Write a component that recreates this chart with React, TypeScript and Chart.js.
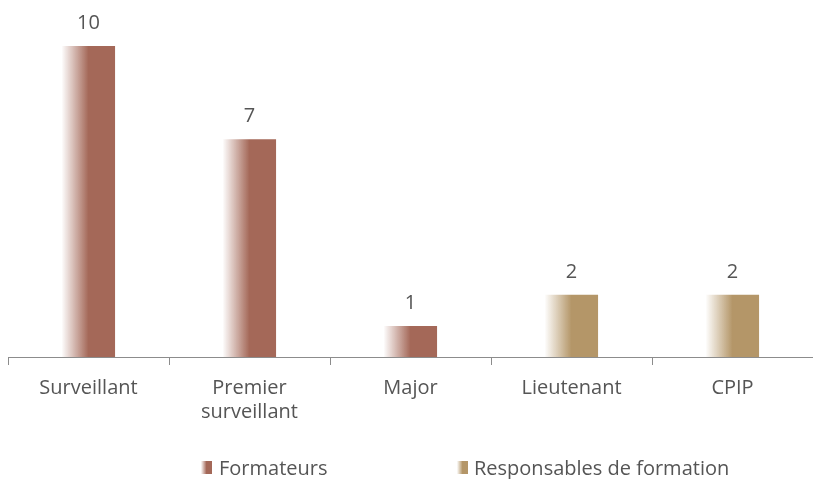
import React, { useEffect, useRef } from "react";
import { Chart, registerables } from "chart.js";

Chart.register(...registerables);

const categories: (string | string[])[] = ["Surveillant", ["Premier", "surveillant"], "Major", "Lieutenant", "CPIP"];
const formateurs: (number | null)[] = [10, 7, 1, null, null];
const responsables: (number | null)[] = [null, null, null, 2, 2];
const seriesNames = ["Formateurs", "Responsables de formation"];
const seriesColors = ["rgb(164,104,88)", "rgb(180,150,104)"];
const seriesLight = ["rgba(164,104,88,0.02)", "rgba(180,150,104,0.02)"];

const FONT = "'Open Sans', 'Noto Sans', sans-serif";
const BAR_PCT = 0.33;

function barGradient(ctx: any, color: string, light: string) {
  const chart = ctx.chart;
  const xScale = chart.scales?.x;
  const area = chart.chartArea;
  if (!xScale || !area) return color;
  const cx = xScale.getPixelForValue(ctx.dataIndex);
  const w = (area.right - area.left) / categories.length * BAR_PCT;
  const left = cx - w / 2;
  const g = chart.ctx.createLinearGradient(left, 0, left + w, 0);
  g.addColorStop(0, light);
  g.addColorStop(0.5, color);
  g.addColorStop(1, color);
  return g;
}

const valueLabels = {
  id: "valueLabels",
  afterDatasetsDraw(chart: any) {
    const c = chart.ctx;
    c.save();
    c.font = `20px ${FONT}`;
    c.fillStyle = "#555555";
    c.textAlign = "center";
    c.textBaseline = "middle";
    chart.data.datasets.forEach((ds: any, di: number) => {
      const meta = chart.getDatasetMeta(di);
      meta.data.forEach((el: any, i: number) => {
        const v = ds.data[i];
        if (v === null || v === undefined) return;
        c.fillText(String(v), el.x, el.y - 23);
      });
    });
    c.restore();
  },
};

const customLegend = {
  id: "customLegend",
  afterDraw(chart: any) {
    const c = chart.ctx;
    c.save();
    c.font = `20px ${FONT}`;
    c.textBaseline = "middle";
    c.textAlign = "left";
    const positions = [201, 457];
    const textX = [219, 474];
    seriesNames.forEach((name, i) => {
      const x = positions[i];
      const g = c.createLinearGradient(x, 0, x + 11, 0);
      g.addColorStop(0, seriesLight[i]);
      g.addColorStop(0.5, seriesColors[i]);
      g.addColorStop(1, seriesColors[i]);
      c.fillStyle = g;
      c.fillRect(x, 461, 11, 13);
      c.fillStyle = "#555555";
      c.fillText(name, textX[i], 469);
    });
    c.restore();
  },
};

export default function App() {
  const ref = useRef<HTMLCanvasElement>(null);
  useEffect(() => {
    if (!ref.current) return;
    const chart = new Chart(ref.current, {
      type: "bar",
      data: {
        labels: categories,
        datasets: [
          {
            label: seriesNames[0],
            data: formateurs,
            backgroundColor: (ctx: any) => barGradient(ctx, seriesColors[0], seriesLight[0]),
            categoryPercentage: 1,
            barPercentage: BAR_PCT,
          },
          {
            label: seriesNames[1],
            data: responsables,
            backgroundColor: (ctx: any) => barGradient(ctx, seriesColors[1], seriesLight[1]),
            categoryPercentage: 1,
            barPercentage: BAR_PCT,
          },
        ],
      },
      options: {
        animation: false,
        responsive: false,
        maintainAspectRatio: false,
        layout: { padding: { left: 8, right: 0, top: 15, bottom: 44 } },
        plugins: { legend: { display: false }, tooltip: { enabled: false } },
        scales: {
          x: {
            stacked: true,
            grid: {
              display: true,
              drawOnChartArea: false,
              drawTicks: true,
              tickLength: 8,
              color: "#8c8c8c",
              offset: true,
            },
            border: { display: true, color: "#8c8c8c", width: 1 },
            ticks: {
              color: "#555555",
              padding: 11,
              maxRotation: 0,
              autoSkip: false,
              font: { family: FONT, size: 20, lineHeight: 1.2 },
            },
          },
          y: {
            stacked: true,
            display: false,
            min: 0,
            max: 11,
          },
        },
      },
      plugins: [valueLabels, customLegend],
    });
    return () => chart.destroy();
  }, []);
  return (
    <div style={{ position: "absolute", left: 0, top: 0, width: 813, height: 479, background: "#ffffff" }}>
      <canvas ref={ref} width={813} height={479} style={{ width: 813, height: 479 }} />
    </div>
  );
}
